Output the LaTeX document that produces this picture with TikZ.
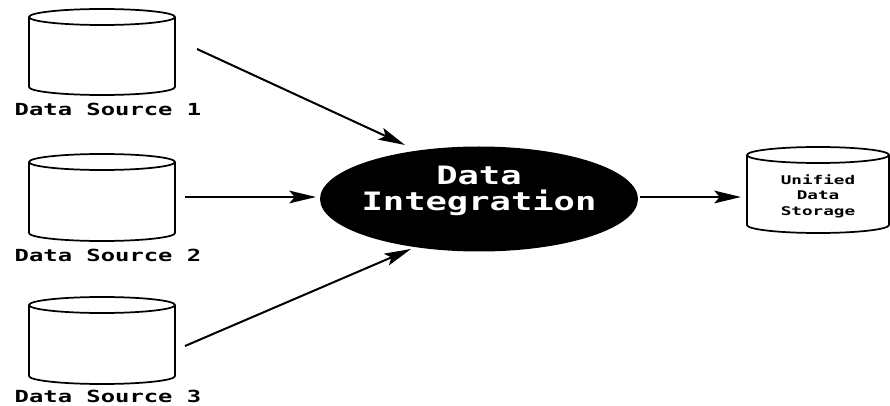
\documentclass[tikz,border=0pt]{standalone}
\usepackage{fontspec}
\setmainfont{DejaVu Sans Mono}
\usetikzlibrary{arrows.meta,shapes.geometric}
\tikzset{
 conn/.style={draw=black,line width=1.5pt,-{Stealth[length=20pt,width=9.5pt,inset=4pt]}},
 lab/.style={inner sep=0pt,font=\bfseries\fontsize{12.5}{13}\selectfont},
 cylline/.style={line width=1.3pt}
}
\newcommand{\cyl}[5]{%
 \draw[cylline,fill=white] (#1-#3,-#2) -- (#1-#3,-#5) arc[start angle=180,end angle=360,x radius=#3,y radius=#4] -- (#1+#3,-#2);
 \draw[cylline] (#1,-#2) ellipse[x radius=#3,y radius=#4];
}
\newcommand{\wide}[2]{\scalebox{#1}[1]{#2}}
\begin{document}
\begin{tikzpicture}[x=0.75pt,y=0.75pt]
\useasboundingbox (0,0) rectangle (890,-406);
\cyl{102}{17}{73}{8}{87}
\cyl{102}{162}{73}{8}{233}
\cyl{102}{305}{73}{8}{376}
\cyl{818}{155}{71}{8}{225}
\node[lab] (s1) at (108,-109) {\wide{1.43}{Data Source 1}};
\node[lab] (s2) at (108,-255) {\wide{1.43}{Data Source 2}};
\node[lab] (s3) at (108,-396) {\wide{1.43}{Data Source 3}};
\coordinate (c1) at (197,-49);
\coordinate (c2) at (185,-197);
\coordinate (c3) at (185,-346);
\coordinate (t1) at (405,-145);
\coordinate (t2) at (316,-197);
\coordinate (t3) at (411,-249);
\coordinate (f4) at (640,-197);
\coordinate (c4) at (741,-197);
\node[ellipse,fill=black,minimum width=238.5pt,minimum height=78.75pt,inner sep=0pt] (di) at (479,-199) {};
\node[text=white,align=center,inner sep=0pt,font=\bfseries\fontsize{19}{20}\selectfont] (dit) at (479,-191) {\wide{1.4}{Data}\\\wide{1.4}{Integration}};
\node[align=center,inner sep=0pt,font=\bfseries\fontsize{9}{11.6}\selectfont] (u) at (818,-196) {\wide{1.47}{Unified}\\\wide{1.47}{Data}\\\wide{1.47}{Storage}};
\draw[conn] (c1) -- (t1);
\draw[conn] (c2) -- (t2);
\draw[conn] (c3) -- (t3);
\draw[conn] (f4) -- (c4);
\end{tikzpicture}
\end{document}
